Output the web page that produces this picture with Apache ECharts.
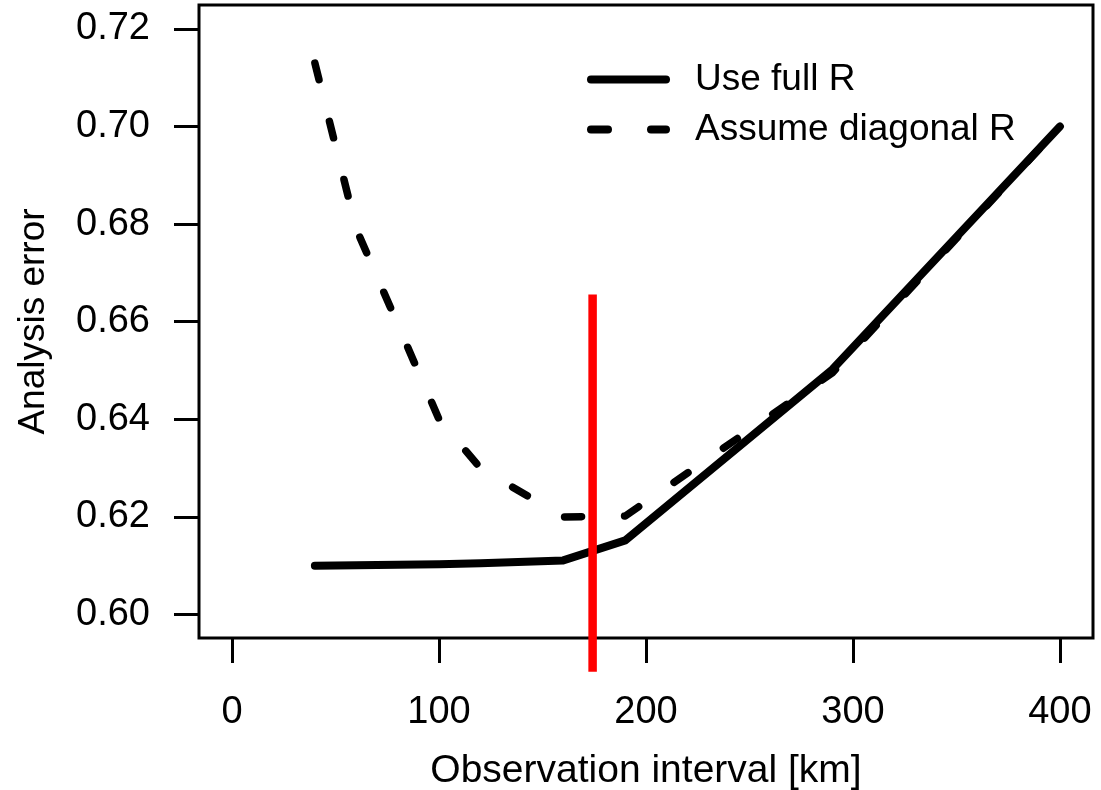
<!DOCTYPE html>
<html>
<head>
	<meta charset="UTF-8">
	<script type="text/javascript" src="https://cdn.jsdelivr.net/npm/echarts@6/dist/echarts.min.js"></script>
	<title></title>
	<style type="text/css">
		body{
			margin:0;
			background:#fff;
		}
		#chart_box{
			width:1101px;
			height:790px;
		}
	</style>
</head>
<body>
<div id="chart_box"></div>
</body>
</html>
<script type="text/javascript">
	// data
	var intervals = [40, 60, 100, 120, 160, 190, 290, 400];
	var fullR = [0.6100, 0.6101, 0.6103, 0.6105, 0.6111, 0.6152, 0.6502, 0.7000];
	var diagR = [0.7130, 0.6790, 0.6400, 0.6300, 0.6200, 0.6202, 0.6495, 0.7000];
	var xTicks = [0, 100, 200, 300, 400];
	var yTicks = [0.60, 0.62, 0.64, 0.66, 0.68, 0.70, 0.72];
	// red marker: x, top, bottom
	var redMark = [[174.2, 0.6656, 0.5883]];

	var font = 'Liberation Sans, Arial, Helvetica, sans-serif';

	function pairs(xs, ys){
		var out = [];
		for (var i = 0; i < xs.length; i++) {
			out.push([xs[i], ys[i]]);
		}
		return out;
	}

	var chart_box = echarts.init(document.getElementById('chart_box'));
	option = {
		animation: false,
		grid: {
			left: 199, right: 8, top: 5, bottom: 152,
			outerBoundsMode: 'none',
			containLabel: false,
			show: true,
			borderColor: '#000',
			borderWidth: 3,
			backgroundColor: '#fff'
		},
		legend: {
			orient: 'vertical',
			left: 587,
			top: 61,
			padding: 0,
			itemWidth: 75,
			itemHeight: 14,
			itemGap: 13,
			lineStyle: {width: 8},
			itemStyle: {color: 'rgba(0,0,0,0)', borderWidth: 0},
			textStyle: {
				fontFamily: font,
				fontSize: 37,
				color: '#000',
				padding: [0, 0, 0, 24]
			},
			data: ['Use full R', 'Assume diagonal R']
		},
		xAxis: {
			type: 'value',
			min: -16,
			max: 416,
			name: 'Observation interval [km]',
			nameLocation: 'middle',
			nameGap: 114,
			nameTextStyle: {fontFamily: font, fontSize: 39, color: '#000'},
			axisLine: {show: false, onZero: false},
			splitLine: {show: false},
			axisTick: {
				show: true,
				customValues: xTicks,
				length: 25,
				lineStyle: {color: '#000', width: 3}
			},
			axisLabel: {
				customValues: xTicks,
				margin: 56,
				fontFamily: font,
				fontSize: 38,
				color: '#000'
			}
		},
		yAxis: {
			type: 'value',
			min: 0.5952,
			max: 0.7249,
			name: 'Analysis error',
			nameLocation: 'middle',
			nameGap: 147,
			nameTextStyle: {fontFamily: font, fontSize: 37, color: '#000'},
			axisLine: {show: false, onZero: false},
			splitLine: {show: false},
			axisTick: {
				show: true,
				customValues: yTicks,
				length: 25,
				lineStyle: {color: '#000', width: 3}
			},
			axisLabel: {
				customValues: yTicks,
				margin: 49,
				fontFamily: font,
				fontSize: 38,
				color: '#000',
				formatter: function(v){ return v.toFixed(2); }
			}
		},
		series: [
			{
				name: 'Use full R',
				type: 'line',
				data: pairs(intervals, fullR),
				symbol: 'none',
				lineStyle: {color: '#000', width: 8, join: 'round', cap: 'round'},
				itemStyle: {color: '#000'}
			},
			{
				name: 'Assume diagonal R',
				type: 'line',
				data: pairs(intervals, diagR),
				symbol: 'none',
				lineStyle: {color: '#000', width: 7.5, type: [17, 43], join: 'round', cap: 'round'},
				itemStyle: {color: '#000'}
			},
			{
				type: 'custom',
				clip: false,
				z: 10,
				data: redMark,
				encode: {x: 0, y: [1, 2]},
				renderItem: function(params, api){
					var p1 = api.coord([api.value(0), api.value(1)]);
					var p2 = api.coord([api.value(0), api.value(2)]);
					return {
						type: 'line',
						shape: {x1: p1[0], y1: p1[1], x2: p2[0], y2: p2[1]},
						style: {stroke: '#ff0000', lineWidth: 8.5}
					};
				}
			}
		]
	};
	chart_box.setOption(option);
</script>
